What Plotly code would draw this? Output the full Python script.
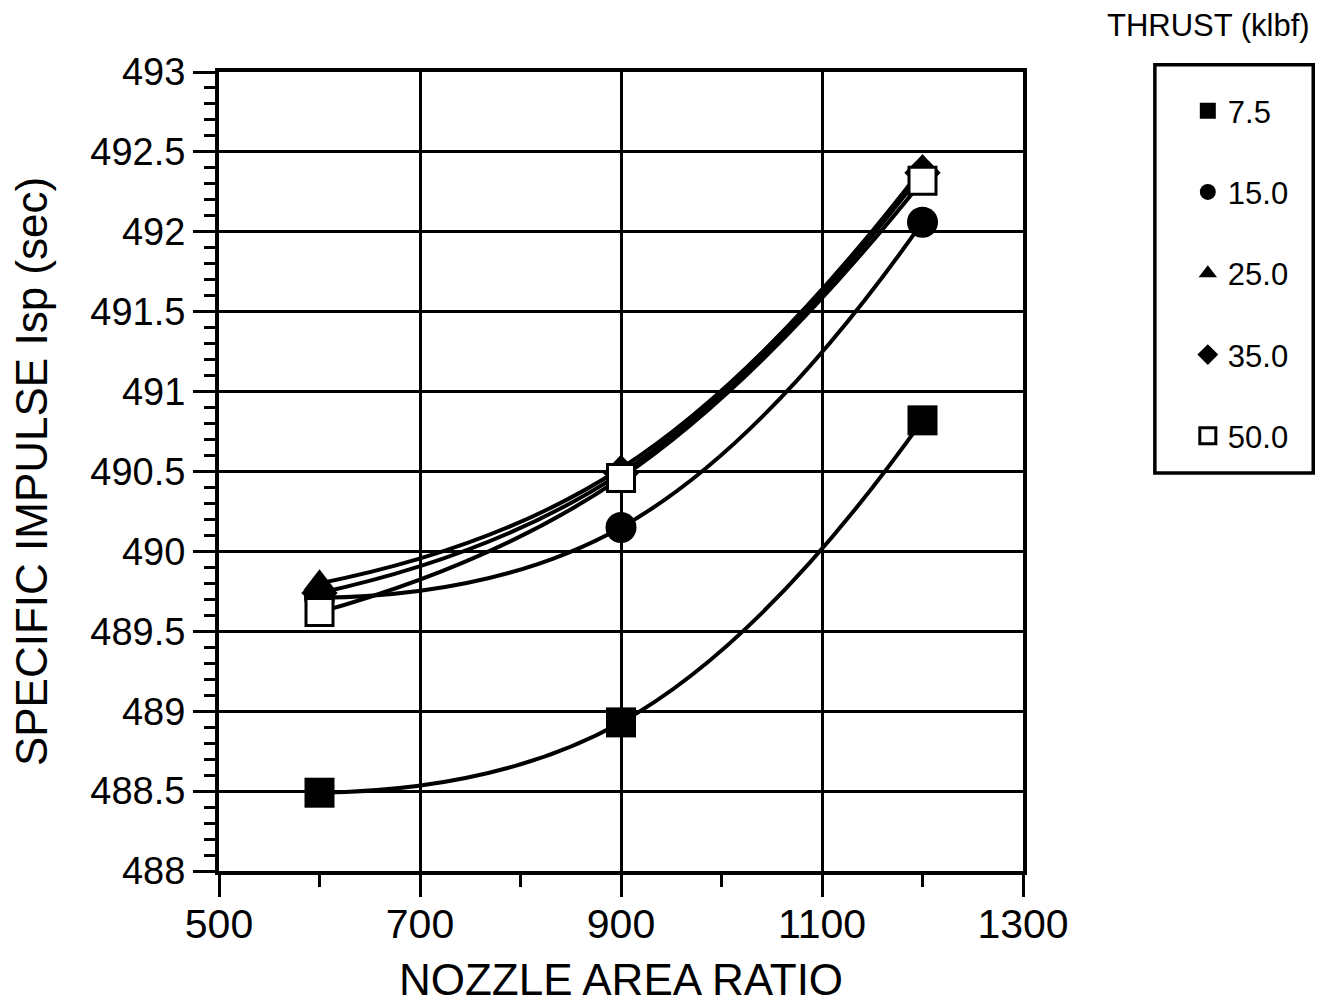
import plotly.graph_objects as go

# Nozzle area ratio at which each engine case was evaluated
area_ratio = [600, 900, 1200]

# Specific impulse (sec) for each thrust level (klbf)
isp_7_5 = [488.49, 488.93, 490.82]
isp_15_0 = [489.71, 490.15, 492.06]
isp_25_0 = [489.80, 490.52, 492.40]
isp_35_0 = [489.74, 490.49, 492.37]
isp_50_0 = [489.62, 490.46, 492.32]

thrust_labels = ["7.5", "15.0", "25.0", "35.0", "50.0"]

x_ticks = [500, 700, 900, 1100, 1300]
x_tick_labels = ["500", "700", "900", "1100", "1300"]
y_ticks = [488, 488.5, 489, 489.5, 490, 490.5, 491, 491.5, 492, 492.5, 493]
y_tick_labels = ["488", "488.5", "489", "489.5", "490", "490.5",
                 "491", "491.5", "492", "492.5", "493"]

FONT = "Liberation Sans, Arial, Helvetica, sans-serif"
INK = "black"

# (values, label, symbol, fill, size, legend rank); listed in drawing order
series = [
    (isp_7_5, thrust_labels[0], "square", INK, 30, 1),
    (isp_15_0, thrust_labels[1], "circle", INK, 31, 2),
    (isp_35_0, thrust_labels[3], "diamond", INK, 28, 4),
    (isp_25_0, thrust_labels[2], "triangle-up", INK, 28, 3),
    (isp_50_0, thrust_labels[4], "square", "white", 27, 5),
]

fig = go.Figure()

# smooth connecting curves first, so every symbol sits on top of them
for values, label, symbol, fill, size, rank in series:
    fig.add_trace(go.Scatter(
        x=area_ratio,
        y=values,
        mode="lines",
        line=dict(color=INK, width=4, shape="spline", smoothing=1.3),
        showlegend=False,
        hoverinfo="skip",
    ))

# data symbols (these carry the legend entries)
for values, label, symbol, fill, size, rank in series:
    fig.add_trace(go.Scatter(
        x=area_ratio,
        y=values,
        name=label,
        mode="markers",
        marker=dict(symbol=symbol, size=size, color=fill,
                    line=dict(color=INK, width=3 if fill == "white" else 0)),
        legendgroup=label,
        legendrank=rank,
    ))

fig.update_layout(
    width=1335,
    height=1004,
    autosize=False,
    margin=dict(l=219, r=312, t=72, b=133),
    paper_bgcolor="white",
    plot_bgcolor="white",
    font=dict(family=FONT, color=INK),
    showlegend=True,
    legend=dict(
        x=1.205, y=0.985, xanchor="left", yanchor="top",
        font=dict(family=FONT, size=31, color=INK),
        bgcolor="rgba(0,0,0,0)",
        borderwidth=0,
        tracegroupgap=38,
        itemsizing="trace",
    ),
    xaxis=dict(
        range=[500, 1300],
        automargin=False,
        tickvals=x_ticks,
        ticktext=x_tick_labels,
        showline=True, linecolor=INK, linewidth=4, mirror=True,
        showgrid=True, gridcolor=INK, gridwidth=3,
        zeroline=False,
        ticks="outside", ticklen=22, tickwidth=3, tickcolor=INK,
        ticklabelstandoff=-8,
        minor=dict(dtick=100, tick0=500, ticks="outside", ticklen=12,
                   tickwidth=3, tickcolor=INK, showgrid=False),
        tickfont=dict(family=FONT, size=41, color=INK),
        title=dict(text="NOZZLE AREA RATIO", standoff=20,
                   font=dict(family=FONT, size=44, color=INK)),
    ),
    yaxis=dict(
        range=[488, 493],
        automargin=False,
        tickvals=y_ticks,
        ticktext=y_tick_labels,
        showline=True, linecolor=INK, linewidth=4, mirror=True,
        showgrid=True, gridcolor=INK, gridwidth=3,
        zeroline=False,
        ticks="outside", ticklen=22, tickwidth=3, tickcolor=INK,
        minor=dict(dtick=0.1, tick0=488, ticks="outside", ticklen=11,
                   tickwidth=3, tickcolor=INK, showgrid=False),
        tickfont=dict(family=FONT, size=38, color=INK),
        title=dict(text="SPECIFIC IMPULSE Isp (sec)", standoff=30,
                   font=dict(family=FONT, size=44, color=INK)),
    ),
    shapes=[
        dict(type="rect", xref="paper", yref="paper",
             x0=1.164, x1=1.361, y0=0.498, y1=1.009,
             line=dict(color=INK, width=3.5), fillcolor="rgba(0,0,0,0)"),
    ],
    annotations=[
        dict(text="THRUST (klbf)", xref="paper", yref="paper",
             x=1.231, y=1.058, xanchor="center", yanchor="middle",
             showarrow=False, font=dict(family=FONT, size=31, color=INK)),
    ],
)

fig.write_html("out.html")
